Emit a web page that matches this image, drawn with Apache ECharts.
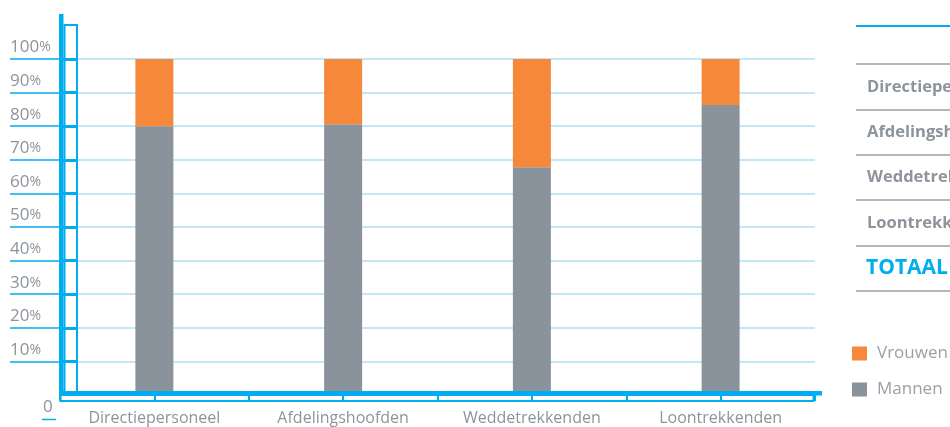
<!DOCTYPE html>
<html>
<head>
<meta charset="utf-8">
<script src="https://cdn.jsdelivr.net/npm/echarts@6/dist/echarts.min.js"></script>
<style>
html,body{margin:0;padding:0;background:#fff;}
#c{width:950px;height:427px;}
</style>
</head>
<body>
<div id="c"></div>
<script>
// ---- data ----
var categories = ['Directiepersoneel', 'Afdelingshoofden', 'Weddetrekkenden', 'Loontrekkenden'];
var mannen = [80.0, 80.6, 67.8, 86.3];
var vrouwen = [20.0, 19.4, 32.2, 13.7];
var yTickValues = [10, 20, 30, 40, 50, 60, 70, 80, 90, 100];
var yTickLabels = ['10%', '20%', '30%', '40%', '50%', '60%', '70%', '80%', '90%', '100%'];
var tableRows = ['Directiepersoneel', 'Afdelingshoofden', 'Weddetrekkenden', 'Loontrekkenden'];
var tableTotal = 'TOTAAL';
var legendNames = ['Vrouwen', 'Mannen'];

// ---- styles ----
var BLUE = '#00aeef';
var LIGHT = '#c4e7f8';
var GRAY = '#8a939b';
var TXT = '#8d949b';
var ORANGE = '#f5883a';
var FONT = '"Open Sans", "Noto Sans", sans-serif';

var chart = echarts.init(document.getElementById('c'), null, {renderer: 'canvas'});

var G = {left: 60, right: 135, top: 59, bottom: 32};
var W = 950, H = 427;
var gx0 = G.left, gx1 = W - G.right, gy0 = G.top, gy1 = H - G.bottom;

var graphics = [
  {type: 'rect', z: 1, shape: {x: gx0 + 4.5, y: 25, width: 12.5, height: gy1 - 25}, style: {fill: '#fff', stroke: BLUE, lineWidth: 2}},
  {type: 'rect', z: 10, shape: {x: gx0 - 1, y: 14, width: 4.5, height: gy1 - 14}, style: {fill: BLUE}},
  {type: 'rect', z: 10, shape: {x: gx0 - 1, y: gy1 - 4, width: gx1 + 8 - gx0, height: 4.5}, style: {fill: BLUE}},
  {type: 'rect', z: 9, shape: {x: gx0 + 0.5, y: gy1, width: gx1 - gx0 - 2, height: 6}, style: {fill: 'none', stroke: BLUE, lineWidth: 2}},
  {type: 'text', z: 10, x: 43, y: 399, style: {text: '0', font: '17px ' + FONT, fill: TXT}},
  {type: 'line', z: 10, shape: {x1: 42, y1: 419.5, x2: 56, y2: 419.5}, style: {stroke: BLUE, lineWidth: 1.5}},
  {type: 'line', z: 10, shape: {x1: 856, y1: 26, x2: 950, y2: 26}, style: {stroke: BLUE, lineWidth: 2}}
];
var rowLines = [64, 110, 155, 200, 246, 291];
rowLines.forEach(function (y) {
  graphics.push({type: 'line', z: 10, shape: {x1: 856, y1: y, x2: 950, y2: y}, style: {stroke: '#9aa1a8', lineWidth: 1.5}});
});
tableRows.forEach(function (t, i) {
  var cy = (rowLines[i] + rowLines[i + 1]) / 2;
  graphics.push({type: 'text', z: 10, x: 867, y: cy, style: {text: t, font: 'bold 16.5px ' + FONT, fill: TXT, verticalAlign: 'middle'}});
});
graphics.push({type: 'text', z: 10, x: 866, y: (rowLines[4] + rowLines[5]) / 2, style: {text: tableTotal, font: 'bold 21px ' + FONT, fill: BLUE, verticalAlign: 'middle'}});

var option = {
  animation: false,
  backgroundColor: '#fff',
  grid: {left: G.left, right: G.right, top: G.top, bottom: G.bottom, containLabel: false},
  legend: {
    data: legendNames,
    orient: 'vertical',
    left: 852, top: 345,
    padding: 0,
    itemWidth: 15, itemHeight: 14, itemGap: 19,
    icon: 'rect',
    textStyle: {fontFamily: FONT, fontSize: 17, color: '#9aa0a6', padding: [0, 0, 0, 5]}
  },
  xAxis: [{
    type: 'category',
    data: categories,
    z: 9,
    axisLine: {show: false},
    axisTick: {show: true, length: 6, lineStyle: {color: BLUE, width: 2}},
    axisLabel: {fontFamily: FONT, fontSize: 16, color: TXT, margin: 15}
  }, {
    type: 'category',
    data: categories,
    position: 'bottom',
    z: 9,
    axisLine: {show: false},
    axisTick: {show: true, alignWithLabel: true, length: 6, lineStyle: {color: BLUE, width: 2}},
    axisLabel: {show: false}
  }],
  yAxis: [{
    type: 'value',
    min: 0, max: 100, interval: 10,
    z: 0,
    axisLine: {show: false},
    axisTick: {show: true, length: 50, customValues: yTickValues, lineStyle: {color: BLUE, width: 1.5}},
    splitLine: {show: true, lineStyle: {color: LIGHT, width: 2}},
    axisLabel: {
      customValues: yTickValues,
      align: 'left', verticalAlign: 'bottom', margin: 50,
      padding: [0, 0, 3, 0],
      formatter: function (v) {
        var i = yTickValues.indexOf(v);
        var s = yTickLabels[i];
        return '{n|' + s.replace('%', '') + '}{p|%}';
      },
      rich: {
        n: {fontFamily: FONT, fontSize: 17, color: TXT},
        p: {fontFamily: FONT, fontSize: 14, color: TXT}
      }
    }
  }, {
    type: 'value',
    min: 0, max: 100, interval: 10,
    position: 'left',
    z: 5,
    axisLine: {show: false},
    axisTick: {show: true, inside: true, length: 17, customValues: yTickValues, lineStyle: {color: BLUE, width: 3}},
    splitLine: {show: false},
    axisLabel: {show: false}
  }],
  series: [{
    name: 'Mannen', type: 'bar', stack: 'a', barWidth: 38,
    itemStyle: {color: GRAY}, data: mannen
  }, {
    name: 'Vrouwen', type: 'bar', stack: 'a', barWidth: 38,
    itemStyle: {color: ORANGE}, data: vrouwen
  }],
  graphic: graphics
};
chart.setOption(option);
</script>
</body>
</html>
